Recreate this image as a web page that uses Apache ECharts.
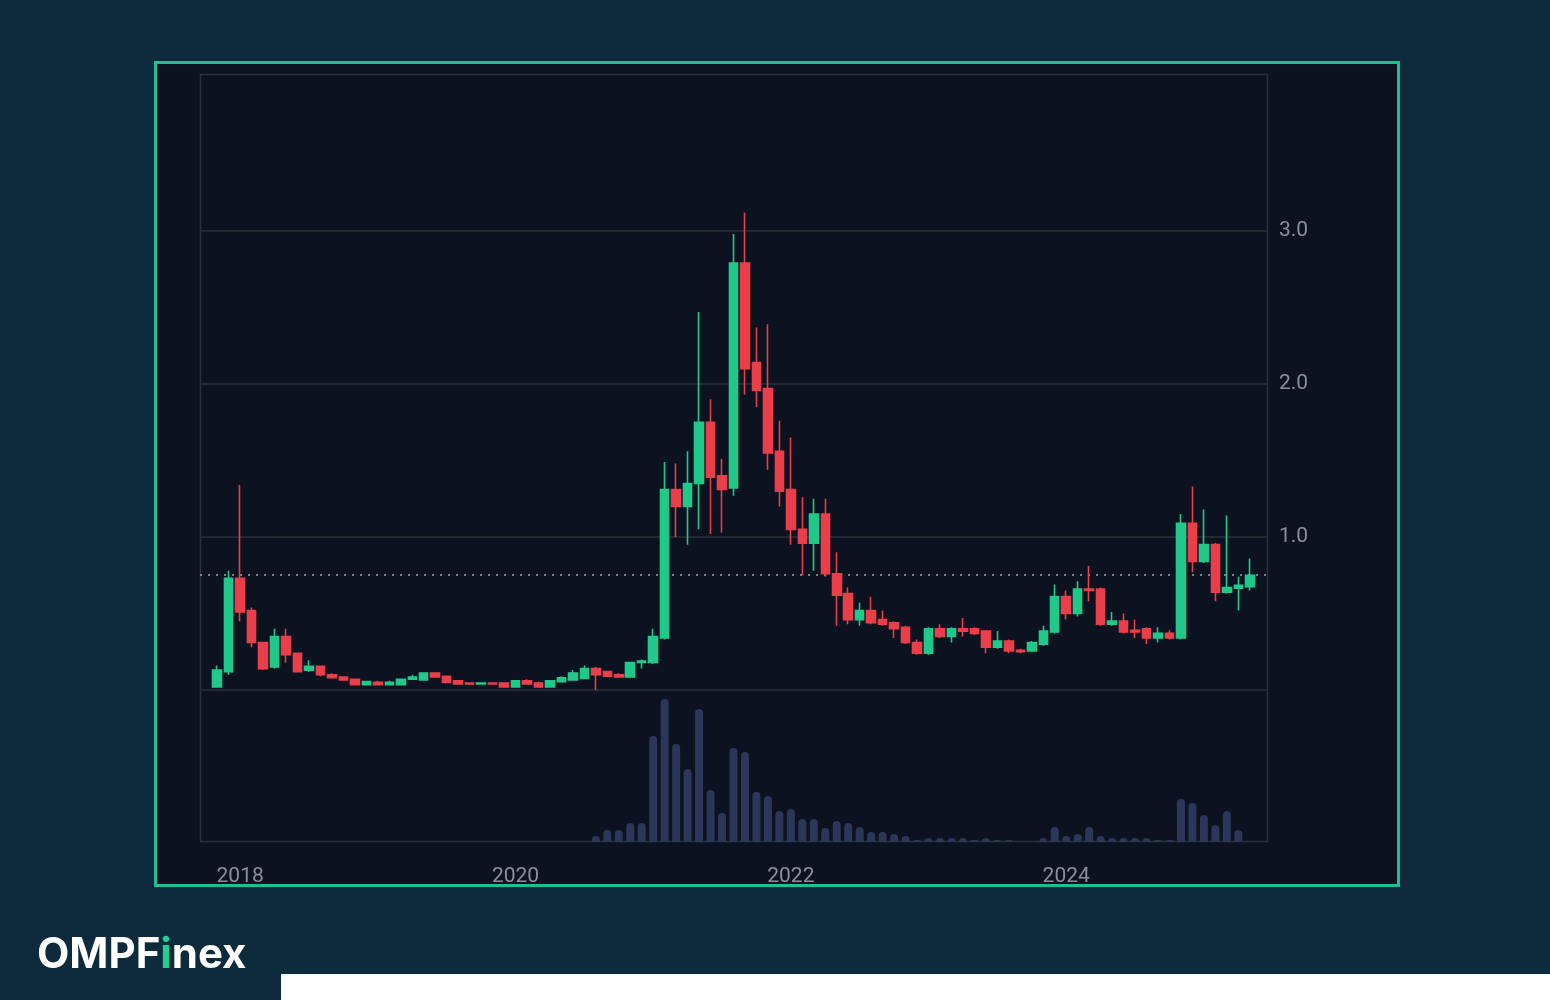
<!DOCTYPE html>
<html><head><meta charset="utf-8">
<script src="https://cdn.jsdelivr.net/npm/echarts@6/dist/echarts.min.js"></script>
<style>html,body{margin:0;padding:0;background:#0e2a3d;}#c{width:1550px;height:1000px;}</style>
</head><body><div id="c"></div>
<script>
// Monthly, Nov 2017 .. May 2025
const months = [];
for (let y = 2017, m = 11; months.length < 91; m++) { if (m > 12) { m = 1; y++; } months.push(y + '-' + String(m).padStart(2, '0')); }
const opens  = [0.02,0.12,0.73,0.52,0.31,0.15,0.35,0.24,0.13,0.155,0.10,0.085,0.07,0.035,0.05,0.035,0.035,0.07,0.065,0.11,0.09,0.06,0.045,0.04,0.045,0.045,0.02,0.06,0.045,0.02,0.055,0.065,0.075,0.14,0.12,0.10,0.085,0.18,0.18,0.34,1.31,1.20,1.35,1.75,1.40,1.32,2.79,2.14,1.97,1.56,1.31,1.05,0.96,1.15,0.76,0.63,0.46,0.52,0.46,0.44,0.41,0.31,0.24,0.40,0.35,0.40,0.40,0.385,0.28,0.32,0.26,0.255,0.30,0.38,0.61,0.50,0.66,0.66,0.43,0.45,0.39,0.40,0.34,0.37,0.34,1.09,0.84,0.95,0.64,0.665,0.675];
const closes = [0.13,0.73,0.51,0.31,0.14,0.35,0.23,0.12,0.155,0.10,0.08,0.065,0.035,0.055,0.035,0.05,0.07,0.085,0.11,0.085,0.05,0.04,0.04,0.045,0.04,0.02,0.06,0.04,0.02,0.06,0.08,0.11,0.14,0.10,0.09,0.085,0.18,0.19,0.35,1.31,1.20,1.35,1.75,1.39,1.31,2.79,2.10,1.96,1.55,1.30,1.05,0.96,1.15,0.76,0.62,0.46,0.52,0.44,0.43,0.40,0.31,0.24,0.40,0.35,0.40,0.385,0.37,0.28,0.32,0.255,0.25,0.31,0.385,0.61,0.50,0.66,0.65,0.43,0.45,0.38,0.38,0.34,0.37,0.34,1.09,0.84,0.95,0.64,0.67,0.685,0.75];
const highs  = [0.16,0.78,1.34,0.54,0.31,0.40,0.40,0.24,0.195,0.155,0.11,0.09,0.075,0.06,0.06,0.06,0.075,0.10,0.11,0.115,0.09,0.065,0.05,0.05,0.05,0.05,0.065,0.07,0.055,0.065,0.09,0.13,0.16,0.15,0.125,0.11,0.185,0.20,0.40,1.49,1.48,1.56,2.47,1.90,1.51,2.98,3.12,2.37,2.39,1.76,1.65,1.26,1.25,1.25,0.90,0.67,0.57,0.61,0.52,0.45,0.42,0.33,0.41,0.43,0.41,0.47,0.41,0.39,0.385,0.33,0.27,0.32,0.42,0.69,0.65,0.71,0.81,0.67,0.51,0.50,0.46,0.41,0.41,0.39,1.15,1.33,1.18,0.96,1.14,0.74,0.86];
const lows   = [0.02,0.10,0.45,0.28,0.13,0.14,0.18,0.12,0.12,0.09,0.075,0.06,0.03,0.03,0.03,0.03,0.03,0.065,0.06,0.08,0.045,0.035,0.035,0.035,0.035,0.015,0.015,0.035,0.015,0.015,0.05,0.06,0.07,0.0,0.085,0.08,0.08,0.14,0.17,0.33,1.0,0.95,1.05,1.02,1.03,1.27,1.93,1.85,1.44,1.20,0.95,0.75,0.78,0.74,0.42,0.43,0.42,0.43,0.42,0.34,0.30,0.23,0.23,0.34,0.31,0.35,0.36,0.24,0.27,0.24,0.24,0.25,0.29,0.37,0.46,0.48,0.58,0.42,0.42,0.37,0.34,0.30,0.31,0.33,0.33,0.77,0.83,0.58,0.63,0.52,0.65];
const volumes = [0,0,0,0,0,0,0,0,0,0,0,0,0,0,0,0,0,0,0,0,0,0,0,0,0,0,0,0,0,0,0,0,0,6,12,12,19,19,106,143,98,73,133,52,29,94,90,50,46,31,33,23,23,14,21,19,15,10,10,8,6,2,4,4,4,4,2,4,2,2,0,0,4,15,6,8,15,6,4,4,4,4,2,2,43,39,27,17,31,12,0];
const yTicks = [1, 2, 3];
const gridLines = [0, 1, 2, 3];
const lastPrice = 0.75;

const cats = [''].concat(months, ['']);
const candle = [null].concat(months.map((_, i) => [opens[i], closes[i], lows[i], highs[i]]), [null]).map(v => v === null ? '-' : v);
const vol = ['-'].concat(volumes, ['-']);

const chart = echarts.init(document.getElementById('c'));
const axisCommon = { type: 'category', data: cats, axisTick: { show: false }, axisLine: { show: false } };
const gridStyle = { color: '#2b303b', type: 'solid', width: 1.5 };
chart.setOption({
  backgroundColor: '#0e2a3d',
  animation: false,
  graphic: [
    { type: 'rect', shape: { x: 155.5, y: 62.5, width: 1243, height: 823 }, style: { fill: '#0c121f', stroke: '#1fbf92', lineWidth: 3 }, z: -10 },
    { type: 'rect', shape: { x: 200.5, y: 74.5, width: 1067, height: 767 }, style: { fill: 'none', stroke: '#2b303b', lineWidth: 1.5 }, z: 1 },
    { type: 'rect', shape: { x: 281, y: 974, width: 1269, height: 26 }, style: { fill: '#ffffff' } },
    { type: 'text', left: 37, top: 934, style: { text: '{w|OMPF}{g|i}{w|nex}', rich: {
      w: { fill: '#ffffff', font: 'bold 42px Inter, Roboto, sans-serif' },
      g: { fill: '#1fcf8f', font: 'bold 42px Inter, Roboto, sans-serif' } } } }
  ],
  grid: [
    { left: 200, right: 283, top: 74, height: 616 },
    { left: 200, right: 283, top: 690, height: 152 }
  ],
  xAxis: [
    Object.assign({ gridIndex: 0, axisLabel: { show: false } }, axisCommon),
    Object.assign({ gridIndex: 1, axisLabel: { show: true, interval: (i, v) => /^(2018|2020|2022|2024)-01$/.test(v),
      formatter: v => v.slice(0, 4), color: '#8a8f9c', fontSize: 21, margin: 24, fontFamily: 'Roboto, sans-serif' } }, axisCommon)
  ],
  yAxis: [
    { gridIndex: 0, type: 'value', position: 'right', min: 0, max: 4.026, interval: 1,
      axisLine: { show: false }, axisTick: { show: false }, splitLine: { show: false },
      axisLabel: { color: '#8a8f9c', fontSize: 21, margin: 12, fontFamily: 'Roboto, sans-serif',
        formatter: v => yTicks.indexOf(v) >= 0 ? v.toFixed(1) : '' } },
    { gridIndex: 1, type: 'value', min: 0, max: 152, show: false }
  ],
  series: [
    { type: 'candlestick', xAxisIndex: 0, yAxisIndex: 0, data: candle, barWidth: 9,
      itemStyle: { color: '#20c98a', color0: '#ea3f4b', borderColor: '#20c98a', borderColor0: '#ea3f4b', borderWidth: 1.6 },
      markLine: { symbol: 'none', silent: true, label: { show: false }, z: 1,
        lineStyle: { color: '#9aa3ad', type: [2, 6], width: 1.5 },
        data: [{ yAxis: lastPrice }].concat(gridLines.map(v => ({ yAxis: v, lineStyle: gridStyle }))) } },
    { type: 'bar', xAxisIndex: 1, yAxisIndex: 1, data: vol, barWidth: 8,
      itemStyle: { color: '#2b3659', borderRadius: [4, 4, 0, 0] } }
  ]
});
</script></body></html>
